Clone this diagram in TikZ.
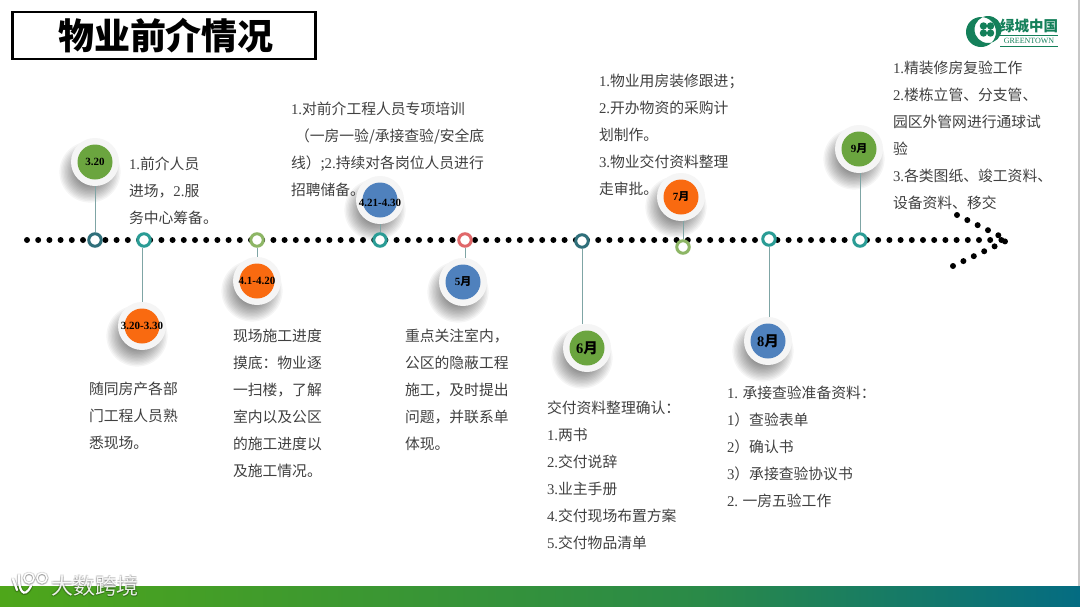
\documentclass[tikz,border=0pt]{standalone}
\usepackage{fontspec}
\setmainfont{Noto Sans CJK SC}
\newfontfamily\latf{Liberation Serif}
\newcommand{\lat}[1]{{\latf #1}}
\usetikzlibrary{calc}
\definecolor{txt}{HTML}{404040}
\definecolor{cgreen}{HTML}{6BA53F}
\definecolor{corange}{HTML}{F96A10}
\definecolor{cblue}{HTML}{4F81BD}
\definecolor{logog}{HTML}{14805A}
\definecolor{rdteal}{HTML}{2F6F7A}
\definecolor{rteal}{HTML}{2A9C95}
\definecolor{rgreen}{HTML}{8DB665}
\definecolor{rred}{HTML}{E0686A}
\definecolor{stemc}{HTML}{7FA5A5}
\definecolor{barA}{HTML}{4EA61A}
\definecolor{barB}{HTML}{2A8A48}
\definecolor{barC}{HTML}{046C82}
\tikzset{
  x=1pt,y=-1pt,
  note/.style={anchor=north west,inner sep=0pt,outer sep=0pt,text=txt,align=left,font=\fontsize{14.8}{27}\selectfont},
  ring/.style={circle,draw=#1,line width=3pt,fill=white,minimum size=12.5pt,inner sep=0pt},
  stem/.style={draw=#1,line width=1pt},
  badge/.style={circle,fill=#1,minimum size=35pt,inner sep=0pt},
  halo/.style={circle,fill=black!4,minimum size=48pt,inner sep=0pt},
  lab/.style={inner sep=0pt,text=black,font=\fontsize{11}{12}\selectfont\bfseries},
  labbig/.style={inner sep=0pt,text=black,font=\fontsize{14.5}{15}\selectfont\bfseries},
  dots/.style={line width=6pt,line cap=round,dash pattern=on 0pt off 11.2pt,draw=black},
  wmark/.style={inner sep=0pt,font=\fontsize{22}{24}\selectfont},
}
\newcommand{\mkbadge}[7]{% name,x,y,color,style,text,text dy
  \foreach \i in {1,...,14}{
    \fill[black,opacity=0.04] (#2-5,#3+10) circle ({32-1.4*\i});
  }
  \node[halo] (#1h) at (#2,#3) {};
  \node[badge=#4] (#1) at (#2,#3) {};
  \node[#5] (#1t) at (#2,#3+#7) {#6};
}
\begin{document}
\begin{tikzpicture}
\useasboundingbox (0,0) rectangle (1080,606);
\fill[white] (0,0) rectangle (1080,606);
\fill[black!22] (1078,0) rectangle (1080,586);
% bottom bar
\shade[left color=barA,right color=barB] (0,586) rectangle (700,606);
\shade[left color=barB,right color=barC] (700,586) rectangle (1080,606);
% title
\node[draw=black,line width=2.8pt,minimum width=303pt,minimum height=47pt,inner sep=0pt,
  font=\fontsize{36}{37}\selectfont\bfseries] (title) at (164,35.5) {\hspace{4pt}物业前介情况};
% logo
\fill[logog,even odd rule] (981,32) circle (15) (988,29.5) circle (13.5);
\foreach \a in {45,135,225,315}{\fill[logog] ($(987,29.5)+(\a:5)$) circle (3.7);}
\node[inner sep=0pt,font=\fontsize{14.5}{15}\selectfont\bfseries,text=logog] (logoa) at (1029,26) {绿城中国};
\node[inner sep=0pt,font=\fontsize{8}{9}\selectfont\latf,text=logog] (logob) at (1029,41) {GREENTOWN};
\draw[logog,line width=0.7pt] (1000,35.5) -- (1058,35.5) (1000,46) -- (1058,46);
% timeline dots
\coordinate (ts) at (27,240);
\coordinate (te) at (1008,240);
\coordinate (aa) at (957,215);
\coordinate (ab) at (953,266);
\draw[dots] (ts) -- (te);
\draw[dots,dash pattern=on 0pt off 11.5pt] (aa) -- (te);
\draw[dots,dash pattern=on 0pt off 11.5pt] (ab) -- (te);
% badges
\mkbadge{b1}{95}{162}{cgreen}{lab}{\lat{3.20}}{0}
\mkbadge{b2}{142}{326}{corange}{lab}{\lat{3.20-3.30}}{0}
\mkbadge{b3}{257}{281}{corange}{lab}{\lat{4.1-4.20}}{0}
\mkbadge{b4}{380}{200}{cblue}{lab}{\lat{4.21-4.30}}{3}
\mkbadge{b5}{463}{282}{cblue}{lab}{\lat{5}月}{0}
\mkbadge{b6}{587}{348}{cgreen}{labbig}{\lat{6}月}{0}
\mkbadge{b7}{681}{197}{corange}{lab}{\lat{7}月}{0}
\mkbadge{b8}{768}{341}{cblue}{labbig}{\lat{8}月}{0}
\mkbadge{b9}{859}{149}{cgreen}{lab}{\lat{9}月}{0}
% rings
\node[ring=rdteal] (r1) at (95,240) {};
\node[ring=rteal] (r2) at (144,240) {};
\node[ring=rgreen] (r3) at (257,240) {};
\node[ring=rteal] (r4) at (380,240) {};
\node[ring=rred] (r5) at (465,240) {};
\node[ring=rdteal] (r6) at (582,241) {};
\node[ring=rgreen] (r7) at (683,247) {};
\node[ring=rteal] (r8) at (769,239) {};
\node[ring=rteal] (r9) at (860,240) {};
% stems
\draw[stem=stemc] (b1h) -- (r1);
\draw[stem=stemc] (b2h.north) -- (b2h |- r2.south);
\draw[stem=stemc] (r3) -- (r3 |- b3h.north);
\draw[stem=stemc] (b4h) -- (r4);
\draw[stem=stemc] (r5) -- (r5 |- b5h.north);
\draw[stem=stemc] (r6) -- (r6 |- b6h.north);
\draw[stem=stemc] (r7 |- b7h.south) -- (r7);
\draw[stem=stemc] (r8) -- (r8 |- b8h.north);
\draw[stem=stemc] (r9 |- b9h.south) -- (r9);
% texts
\node[note] (n1) at (129,157) {\lat{1.}前介人员\\进场，\lat{2.}服\\务中心筹备。};
\node[note] (n2) at (291,102) {\lat{1.}对前介工程人员专项培训\\\hspace{4pt}（一房一验/承接查验/安全底\\线）;\lat{2.}持续对各岗位人员进行\\招聘储备。};
\node[note] (n3) at (599,74) {\lat{1.}物业用房装修跟进；\\\lat{2.}开办物资的采购计\\划制作。\\\lat{3.}物业交付资料整理\\走审批。};
\node[note] (n4) at (893,61) {\lat{1.}精装修房复验工作\\\lat{2.}楼栋立管、分支管、\\园区外管网进行通球试\\验\\\lat{3.}各类图纸、竣工资料、\\设备资料、移交};
\node[note] (n5) at (89,382) {随同房产各部\\门工程人员熟\\悉现场。};
\node[note] (n6) at (233,329) {现场施工进度\\摸底：物业逐\\一扫楼，了解\\室内以及公区\\的施工进度以\\及施工情况。};
\node[note] (n7) at (405,329) {重点关注室内，\\公区的隐蔽工程\\施工，及时提出\\问题，并联系单\\体现。};
\node[note] (n8) at (547,401) {交付资料整理确认：\\\lat{1.}两书\\\lat{2.}交付说辞\\\lat{3.}业主手册\\\lat{4.}交付现场布置方案\\\lat{5.}交付物品清单};
\node[note] (n9) at (727,386) {\lat{1.} 承接查验准备资料：\\\lat{1}）查验表单\\\lat{2}）确认书\\\lat{3}）承接查验协议书\\\lat{2.} 一房五验工作};
% watermark
\foreach \dx/\dy in {-1/1,1/1,0/1.5,-1/-0.5,1/-0.5}{
  \node[wmark,text=black,opacity=0.13] at (95+\dx,586+\dy) {大数跨境};
  \draw[black,opacity=0.13,line width=2.2pt,line cap=round] (13+\dx,579+\dy) -- (17+\dx,590+\dy)
     (19+\dx,575+\dy) .. controls (18+\dx,590+\dy) and (24+\dx,600+\dy) .. (31+\dx,586+\dy);
  \draw[black,opacity=0.13,line width=1.4pt] (29+\dx,578+\dy) circle (5) (42+\dx,578+\dy) circle (5);
}
\node[wmark,text=white,opacity=0.9] (wm) at (95,586) {大数跨境};
\draw[white,line width=2.2pt,line cap=round] (13,579) -- (17,590)
     (19,575) .. controls (18,590) and (24,600) .. (31,586);
\draw[white,line width=1.4pt] (29,578) circle (5) (42,578) circle (5);
\end{tikzpicture}
\end{document}
